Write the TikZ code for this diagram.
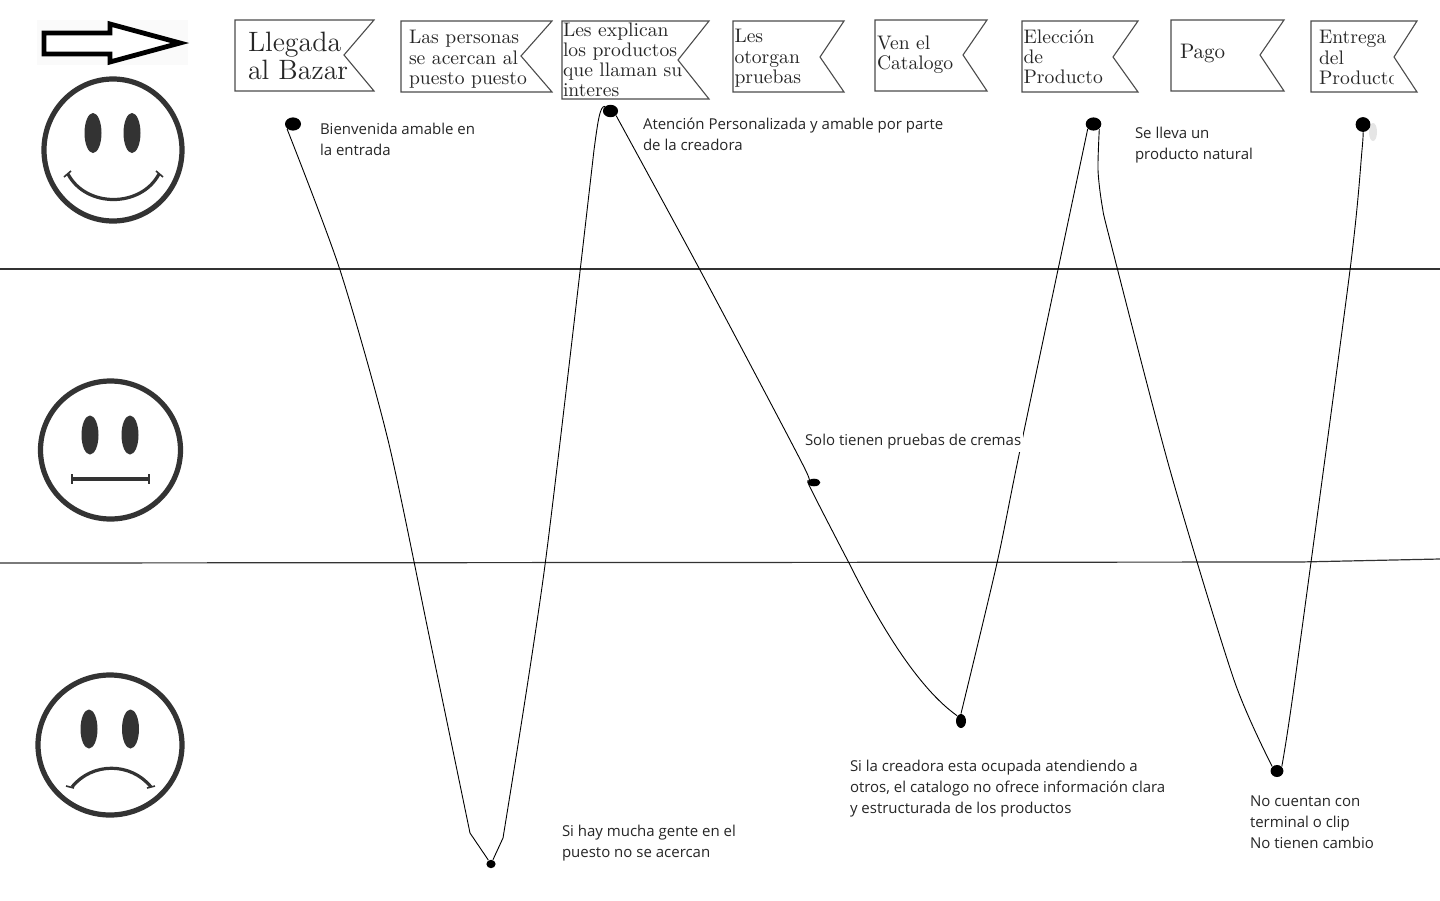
\documentclass[tikz,border=0pt]{standalone}
\usepackage{fontspec}
\usetikzlibrary{shapes.geometric}
\newfontfamily\lblfont{Open Sans}
\tikzset{
  banner/.style={draw=black!70!white,line width=0.55pt,fill=white,line join=miter},
  bantext/.style={anchor=north west,inner sep=0pt,outer sep=0pt,align=left,text=black!85},
  lbl/.style={anchor=north west,inner sep=0pt,outer sep=0pt,align=left,text=black!85,font=\lblfont\fontsize{7.5}{10.5}\selectfont},
  dot/.style n args={2}{ellipse,fill=black,inner sep=0pt,minimum width=#1,minimum height=#2},
  curve/.style={draw=black,line width=0.45pt},
  smoothly/.style={smooth,tension=0.45},
  level/.style={draw=black!80,line width=0.6pt},
  face/.style={draw=black!80,line width=2.6pt},
  eye/.style={fill=black!80},
  mouth/.style={draw=black!80,line width=1.6pt},
  tick/.style={draw=black!80,line width=0.8pt}
}
\begin{document}
\begin{tikzpicture}[x=0.5pt,y=-0.5pt]
\useasboundingbox (0,0) rectangle (1440,900);
\fill[white] (0,0) rectangle (1440,900);
% level lines
\coordinate (l1a) at (0,269); \coordinate (l1b) at (1440,269);
\coordinate (l2a) at (0,563); \coordinate (l2m) at (1300,562); \coordinate (l2b) at (1440,559);
\draw[level] (l1a) -- (l1b);
\draw[level] (l2a) -- (l2m) -- (l2b);
% arrow
\fill[black!2] (37,20) rectangle (188,65);
\draw[draw=black,line width=2.4pt,line join=miter,fill=white] (44,33) -- (110,33) -- (110,24) -- (180,43) -- (110,62) -- (110,54) -- (44,54) -- cycle;
% happy face
\draw[face] (113,150) ellipse [x radius=69,y radius=71];
\fill[eye] (93,133) ellipse [x radius=8.5,y radius=20];
\fill[eye] (132,133) ellipse [x radius=8.5,y radius=20];
\draw[mouth] (68,174) .. controls (86,208) and (141,208) .. (159,174);
\draw[tick] (64,177) -- (71,171) (156,171) -- (163,177);
% neutral face
\draw[face] (110.5,450) ellipse [x radius=70,y radius=69];
\fill[eye] (90,435) ellipse [x radius=8.5,y radius=19.5];
\fill[eye] (130,435) ellipse [x radius=8.5,y radius=19.5];
\draw[mouth] (72,479) -- (149,479);
\draw[tick] (72,474) -- (72,484) (149,474) -- (149,484);
% sad face
\draw[face] (110,745) ellipse [x radius=72,y radius=70];
\fill[eye] (89,729) ellipse [x radius=8.5,y radius=19.5];
\fill[eye] (130.5,729) ellipse [x radius=8.5,y radius=19.5];
\draw[mouth] (72,787) .. controls (92,762) and (131,762) .. (151,787);
\draw[tick] (66,786) -- (74,788) (147,788) -- (155,786);
% banners
\draw[banner] (235,20) -- (374,20) -- (344,55) -- (374,91) -- (235,91) -- cycle;
\draw[banner] (401,21) -- (552,21) -- (521,56) -- (552,92) -- (401,92) -- cycle;
\draw[banner] (562,21) -- (709,21) -- (678,60) -- (709,99) -- (562,99) -- cycle;
\draw[banner] (733,21) -- (844,21) -- (820,57) -- (844,92) -- (733,92) -- cycle;
\draw[banner] (875,20) -- (987,20) -- (963,55) -- (987,91) -- (875,91) -- cycle;
\draw[banner] (1022,21) -- (1138,21) -- (1113,57) -- (1138,92) -- (1022,92) -- cycle;
\draw[banner] (1171,20) -- (1284,20) -- (1260,55) -- (1284,91) -- (1171,91) -- cycle;
\draw[banner] (1311,21) -- (1417,21) -- (1394,57) -- (1417,92) -- (1311,92) -- cycle;
\node[bantext,font=\fontsize{14}{14}\selectfont] (b1) at (248,32) {Llegada\\al Bazar};
\node[bantext,font=\fontsize{9.8}{10.2}\selectfont] (b2) at (409,30.5) {Las personas\\se acercan al\\puesto puesto};
\node[bantext,font=\fontsize{9.8}{10}\selectfont] (b3) at (563,22.5) {Les explican\\los productos\\que llaman su\\interes};
\node[bantext,font=\fontsize{9.8}{10.2}\selectfont] (b4) at (734.5,29.5) {Les\\otorgan\\pruebas};
\node[bantext,font=\fontsize{9.8}{10.4}\selectfont] (b5) at (877,35.5) {Ven el\\Catalogo};
\node[bantext,font=\fontsize{9.8}{10.2}\selectfont] (b6) at (1023.5,29.5) {Elección\\de\\Producto};
\node[bantext,font=\fontsize{10.5}{10.2}\selectfont] (b7) at (1180,44) {Pago};
\node[bantext,font=\fontsize{9.8}{10.2}\selectfont] (b8) at (1319,30.5) {Entrega\\del\\Producto};
\fill[white] (1394,70) rectangle (1400,88);
% dots
\fill[black!10] (1373,132) ellipse [x radius=4,y radius=9];
\node[dot={8pt}{6.6pt}] (d1) at (293,124) {};
\node[dot={4.6pt}{4.2pt}] (d2) at (491,864) {};
\node[dot={7.6pt}{6.2pt}] (d3) at (610.5,111) {};
\node[dot={6.4pt}{3.8pt}] (d4) at (814,482.5) {};
\node[dot={5pt}{7pt}] (d5) at (961,721) {};
\node[dot={7.8pt}{6.6pt}] (d6) at (1093.5,124) {};
\node[dot={6.4pt}{6pt}] (d7) at (1277,771) {};
\node[dot={7.4pt}{7.4pt}] (d8) at (1363,124.5) {};
% curves
\draw[curve] plot[smoothly] coordinates {(d1.south west) (340,270) (388,440) (430,640) (470,833)} -- (d2);
\draw[curve] (d2) -- (503,838) plot[smoothly] coordinates {(503,838) (545,565) (594,150)} .. controls (598,120) and (600,106) .. (d3.north west);
\draw[curve] plot[smoothly] coordinates {(d3.south east) (700,270) (803,465) (d4.south west) (849,563)} .. controls (880,625) and (918,688) .. (d5.north west);
\draw[curve] plot[smoothly] coordinates {(d5.north) (997,563) (1020,450) (d6.south west)};
\draw[curve] plot[smoothly] coordinates {(d6.south east) (1098,170) (1102,205) (1110,240) (1170,470) (1234,680) (d7.north west)};
\draw[curve] plot[smoothly] coordinates {(d7.north east) (1295,680) (1350,270) (1362,150) (d8.south)};
% labels
\node[lbl] (t1) at (320,123) {Bienvenida amable en\\la entrada};
\node[lbl] (t2) at (643,118) {Atención Personalizada y amable por parte\\de la creadora};
\node[lbl] (t3) at (1135,127.5) {Se lleva un\\producto natural};
\node[lbl,fill=white,inner sep=1pt,anchor=west] (t4) at (803,442) {Solo tienen pruebas de cremas};
\node[lbl] (t5) at (562,825) {Si hay mucha gente en el\\puesto no se acercan};
\node[lbl] (t6) at (850,760) {Si la creadora esta ocupada atendiendo a\\otros, el catalogo no ofrece información clara\\y estructurada de los productos};
\node[lbl] (t7) at (1250,796) {No cuentan con\\terminal o clip\\No tienen cambio};
\end{tikzpicture}
\end{document}
